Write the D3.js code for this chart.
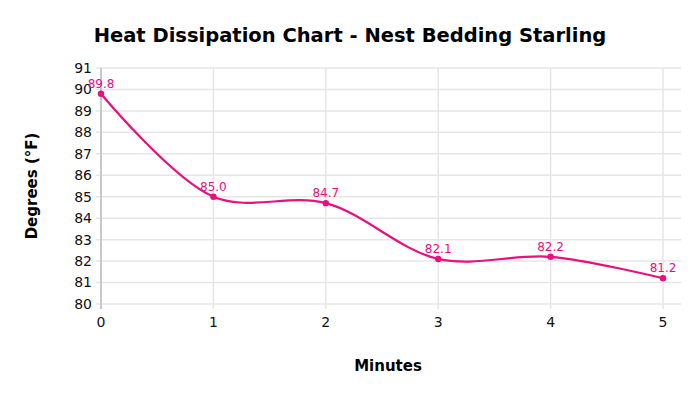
<!DOCTYPE html>
<meta charset="utf-8">
<script src="https://d3js.org/d3.v7.min.js"></script>
<style>
  body { margin: 0; background: #fff; }
  text { font-family: "DejaVu Sans", Verdana, sans-serif; }
</style>
<svg id="chart" width="700" height="394"></svg>
<script>
// data
var minutes = [0, 1, 2, 3, 4, 5];
var degrees = [89.8, 85.0, 84.7, 82.1, 82.2, 81.2];
var yTicks = [80, 81, 82, 83, 84, 85, 86, 87, 88, 89, 90, 91];

var svg = d3.select("#chart");
var plotLeft = 101, plotRight = 681, plotTop = 68, plotBottom = 304;

var x = d3.scaleLinear().domain([0, 5]).range([plotLeft, 663]);
var y = d3.scaleLinear().domain([80, 91]).range([plotBottom, plotTop]);

// horizontal grid
svg.append("g").selectAll("line").data(yTicks).enter().append("line")
  .attr("x1", plotLeft - 5).attr("x2", plotRight)
  .attr("y1", function(d){ return y(d) }).attr("y2", function(d){ return y(d) })
  .attr("stroke", "#e6e6e6").attr("stroke-width", 1.5);

// vertical grid
svg.append("g").selectAll("line").data(minutes.slice(1)).enter().append("line")
  .attr("x1", function(d){ return x(d) }).attr("x2", function(d){ return x(d) })
  .attr("y1", plotTop).attr("y2", plotBottom + 5)
  .attr("stroke", "#e6e6e6").attr("stroke-width", 1.5);

// y axis line
svg.append("line").attr("x1", plotLeft).attr("x2", plotLeft).attr("y1", plotTop).attr("y2", plotBottom + 5)
  .attr("stroke", "#c8c8c8").attr("stroke-width", 2);

// tick labels
svg.append("g").selectAll("text").data(yTicks).enter().append("text")
  .attr("x", plotLeft - 9).attr("y", function(d){ return y(d) })
  .attr("dy", "0.35em").attr("text-anchor", "end")
  .attr("font-size", 14).attr("fill", "#111")
  .text(function(d){ return d });

svg.append("g").selectAll("text").data(minutes).enter().append("text")
  .attr("x", function(d){ return x(d) }).attr("y", 327)
  .attr("text-anchor", "middle")
  .attr("font-size", 14).attr("fill", "#111")
  .text(function(d){ return d });

// line
var pts = minutes.map(function(m, i){ return [m, degrees[i]] });
svg.append("path").datum(pts)
  .attr("fill", "none").attr("stroke", "#e8107f").attr("stroke-width", 2.2)
  .attr("d", d3.line().x(function(d){ return x(d[0]) }).y(function(d){ return y(d[1]) })
    .curve(d3.curveCatmullRom.alpha(0.5)));

svg.append("g").selectAll("circle").data(pts).enter().append("circle")
  .attr("cx", function(d){ return x(d[0]) }).attr("cy", function(d){ return y(d[1]) })
  .attr("r", 3.2).attr("fill", "#e8107f");

svg.append("g").selectAll("text").data(pts).enter().append("text")
  .attr("x", function(d){ return x(d[0]) }).attr("y", function(d){ return y(d[1]) - 6 })
  .attr("text-anchor", "middle").attr("font-size", 12).attr("fill", "#e8107f")
  .text(function(d){ return d[1].toFixed(1) });

// titles
svg.append("text").attr("x", 350).attr("y", 42).attr("text-anchor", "middle")
  .attr("font-size", 19.5).attr("font-weight", "bold").attr("fill", "#000")
  .text("Heat Dissipation Chart - Nest Bedding Starling");

svg.append("text").attr("x", 388).attr("y", 371).attr("text-anchor", "middle")
  .attr("font-size", 15).attr("font-weight", "bold").attr("fill", "#000")
  .text("Minutes");

svg.append("text").attr("transform", "translate(37,186) rotate(-90)")
  .attr("text-anchor", "middle")
  .attr("font-size", 15).attr("font-weight", "bold").attr("fill", "#000")
  .text("Degrees (°F)");
</script>
